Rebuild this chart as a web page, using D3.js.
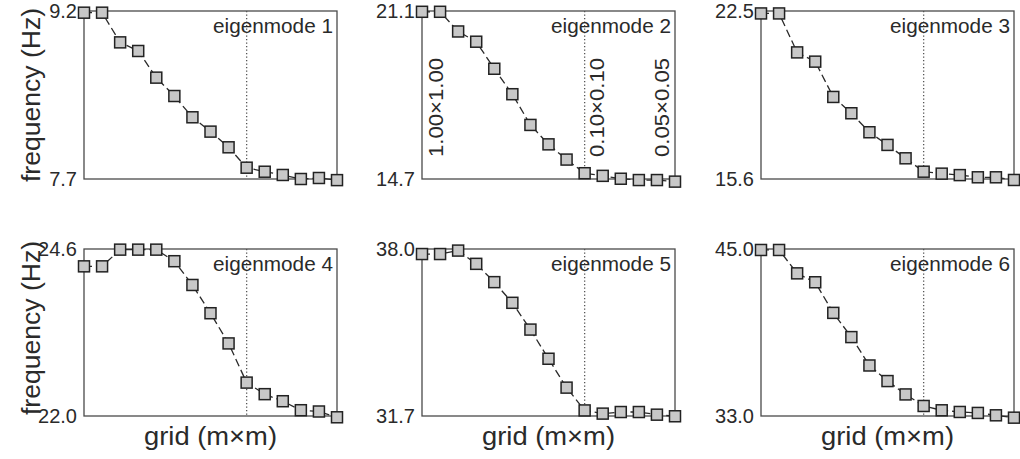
<!DOCTYPE html>
<html>
<head>
<meta charset="utf-8">
<script src="https://cdn.jsdelivr.net/npm/d3@7"></script>
<style>
  html, body { margin: 0; padding: 0; background: #fff; }
  svg { display: block; }
  text { font-family: "Liberation Sans", Arial, sans-serif; fill: #2a2a2a; }
</style>
</head>
<body>
<svg id="chart" width="1020" height="459"></svg>
<script>
// ---- data ----
const gridIndex = d3.range(15); // 15 grid refinements
const refIndex = 9;             // dotted reference (0.10×0.10)
const gridLabels = ["1.00\u00d71.00", "0.10\u00d70.10", "0.05\u00d70.05"];
const gridLabelIdx = [0, 9, 14];
const modeNames = ["eigenmode 1", "eigenmode 2", "eigenmode 3", "eigenmode 4", "eigenmode 5", "eigenmode 6"];
const yMin = [7.7, 14.7, 15.6, 22.0, 31.7, 33.0];
const yMax = [9.2, 21.1, 22.5, 24.6, 38.0, 45.0];
const yTickLabels = [["7.7", "9.2"], ["14.7", "21.1"], ["15.6", "22.5"], ["22.0", "24.6"], ["31.7", "38.0"], ["33.0", "45.0"]];
const mode1 = [9.185, 9.185, 8.92, 8.843, 8.605, 8.441, 8.251, 8.123, 7.983, 7.801, 7.765, 7.736, 7.70, 7.709, 7.69];
const mode2 = [21.07, 21.07, 20.32, 19.93, 18.90, 17.93, 16.76, 16.02, 15.44, 14.92, 14.82, 14.71, 14.66, 14.66, 14.60];
const mode3 = [22.40, 22.40, 20.80, 20.42, 18.97, 18.30, 17.52, 17.00, 16.45, 15.90, 15.82, 15.76, 15.67, 15.67, 15.56];
const mode4 = [24.33, 24.33, 24.59, 24.59, 24.59, 24.41, 24.04, 23.60, 23.13, 22.52, 22.34, 22.23, 22.09, 22.07, 21.98];
const mode5 = [37.81, 37.81, 37.94, 37.44, 36.75, 35.97, 34.96, 33.86, 32.77, 31.91, 31.79, 31.85, 31.85, 31.75, 31.69];
const mode6 = [44.93, 44.93, 43.25, 42.61, 40.41, 38.67, 36.63, 35.51, 34.55, 33.72, 33.41, 33.29, 33.22, 33.05, 32.88];
const modes = [mode1, mode2, mode3, mode4, mode5, mode6];

// ---- layout ----
const svg = d3.select("#chart");
const colLeft = [84, 422, 761];
const panelW = 253;
const rowTop = [11, 249];
const rowBottom = [179, 416];

modes.forEach((vals, i) => {
  const r = Math.floor(i / 3), c = i % 3;
  const left = colLeft[c], right = left + panelW;
  const top = rowTop[r], bottom = rowBottom[r];
  const x = d3.scaleLinear().domain([0, 14]).range([left, right]);
  const y = d3.scaleLinear().domain([yMin[i], yMax[i]]).range([bottom, top]);
  const g = svg.append("g");

  // frame
  g.append("rect")
    .attr("x", left).attr("y", top)
    .attr("width", panelW).attr("height", bottom - top)
    .attr("fill", "none").attr("stroke", "#4a4a4a").attr("stroke-width", 1.3);

  // dotted reference line
  g.append("line")
    .attr("x1", x(refIndex)).attr("x2", x(refIndex))
    .attr("y1", top).attr("y2", bottom)
    .attr("stroke", "#555").attr("stroke-width", 1.3)
    .attr("stroke-dasharray", "1.3,2.2");

  // y tick labels (min and max only)
  const ticks = [yMin[i], yMax[i]];
  g.selectAll("text.tick").data(ticks).enter().append("text")
    .attr("class", "tick")
    .attr("x", left - 7)
    .attr("y", d => y(d) + 7)
    .attr("text-anchor", "end")
    .attr("font-size", 20)
    .text((d, k) => yTickLabels[i][k]);

  // mode title
  g.append("text")
    .attr("x", right - 4).attr("y", top + 22)
    .attr("text-anchor", "end")
    .attr("font-size", 20)
    .attr("textLength", 120).attr("lengthAdjust", "spacingAndGlyphs")
    .text(modeNames[i]);

  // grid annotations (panel 2 only)
  if (i === 1) {
    const offs = [21, 19, -6];
    gridLabels.forEach((lab, k) => {
      const bx = x(gridLabelIdx[k]) + offs[k];
      const by = bottom - 22;
      g.append("text")
        .attr("transform", `translate(${bx},${by}) rotate(-90)`)
        .attr("text-anchor", "start")
        .attr("font-size", 20)
        .attr("textLength", 99).attr("lengthAdjust", "spacingAndGlyphs")
        .text(lab);
    });
  }

  // dashed connecting line
  const line = d3.line().x((d, k) => x(gridIndex[k])).y(d => y(d));
  g.append("path")
    .datum(vals)
    .attr("d", line)
    .attr("fill", "none")
    .attr("stroke", "#2a2a2a").attr("stroke-width", 1.3)
    .attr("stroke-dasharray", "8,4");

  // square markers
  const s = 11;
  g.selectAll("rect.pt").data(vals).enter().append("rect")
    .attr("class", "pt")
    .attr("x", (d, k) => x(gridIndex[k]) - s / 2)
    .attr("y", d => y(d) - s / 2)
    .attr("width", s).attr("height", s)
    .attr("fill", "#c8c8c8")
    .attr("stroke", "#222").attr("stroke-width", 1.5);
});

// y-axis labels (left column)
const rowLabelCenter = [95, 328];
rowLabelCenter.forEach(cy => {
  svg.append("text")
    .attr("transform", `translate(40,${cy}) rotate(-90)`)
    .attr("text-anchor", "middle")
    .attr("font-size", 25)
    .attr("textLength", 174).attr("lengthAdjust", "spacingAndGlyphs")
    .text("frequency (Hz)");
});

// x-axis labels (bottom row)
colLeft.forEach(l => {
  svg.append("text")
    .attr("x", l + panelW / 2).attr("y", 445)
    .attr("text-anchor", "middle")
    .attr("font-size", 25)
    .attr("textLength", 133).attr("lengthAdjust", "spacingAndGlyphs")
    .text("grid (m\u00d7m)");
});
</script>
</body>
</html>
